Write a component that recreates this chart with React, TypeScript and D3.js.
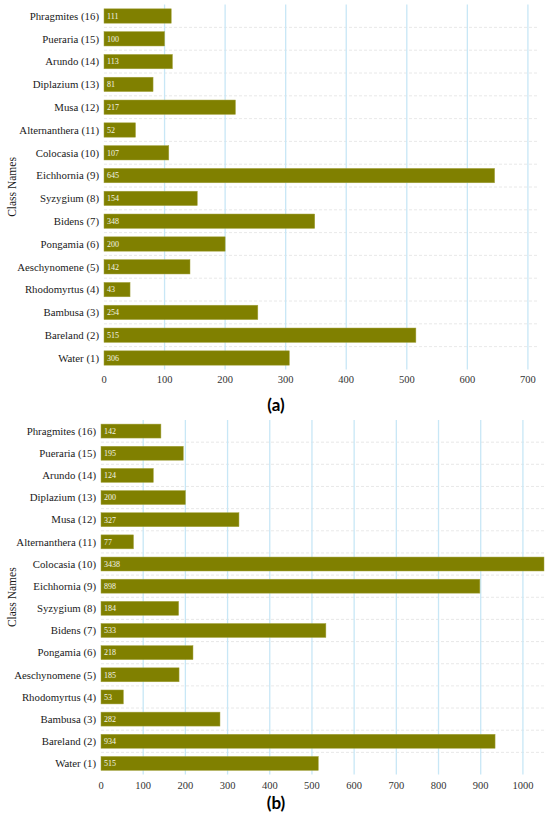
import * as d3 from "d3";

const CATEGORIES = [
  "Phragmites (16)",
  "Pueraria (15)",
  "Arundo (14)",
  "Diplazium (13)",
  "Musa (12)",
  "Alternanthera (11)",
  "Colocasia (10)",
  "Eichhornia (9)",
  "Syzygium (8)",
  "Bidens (7)",
  "Pongamia (6)",
  "Aeschynomene (5)",
  "Rhodomyrtus (4)",
  "Bambusa (3)",
  "Bareland (2)",
  "Water (1)",
];

const VALUES_A = [111, 100, 113, 81, 217, 52, 107, 645, 154, 348, 200, 142, 43, 254, 515, 306];
const VALUES_B = [142, 195, 124, 200, 327, 77, 3438, 898, 184, 533, 218, 185, 53, 282, 934, 515];

const TICKS_A = [0, 100, 200, 300, 400, 500, 600, 700];
const TICKS_B = [0, 100, 200, 300, 400, 500, 600, 700, 800, 900, 1000];

const BAR = "#808000";
const SERIF = "Liberation Serif, DejaVu Serif, Times New Roman, serif";

interface PanelProps {
  values: number[];
  ticks: number[];
  xMax: number;
  left: number;
  right: number;
  top: number;
  bottom: number;
  label: string;
  labelY: number;
}

const Panel = ({ values, ticks, xMax, left, right, top, bottom, label, labelY }: PanelProps) => {
  const x = d3.scaleLinear().domain([0, xMax]).range([left, right]).clamp(true);
  const y = d3
    .scaleBand<string>()
    .domain(CATEGORIES)
    .range([top, bottom])
    .paddingInner(0.37)
    .paddingOuter(0.185);
  const step = y.step();
  const bw = y.bandwidth();
  const centerY = (top + bottom) / 2;

  return (
    <g>
      {/* dashed row separators */}
      {CATEGORIES.slice(1).map((c) => {
        const yy = (y(c) as number) - (step - bw) / 2;
        return (
          <line
            key={"h" + c}
            x1={left}
            x2={right}
            y1={yy}
            y2={yy}
            stroke="#e2e2e2"
            strokeWidth={0.8}
            strokeDasharray="3,2"
          />
        );
      })}
      {/* vertical grid */}
      {ticks.slice(1).map((t) => (
        <line
          key={"v" + t}
          x1={x(t)}
          x2={x(t)}
          y1={top}
          y2={bottom}
          stroke="#c8e7f6"
          strokeWidth={1.3}
        />
      ))}
      {CATEGORIES.map((c, i) => (
        <g key={c}>
          <rect
            x={x(0)}
            y={y(c)}
            width={x(values[i]) - x(0)}
            height={bw}
            fill={BAR}
            stroke="#a3a340"
            strokeWidth={0.5}
          />
          <text
            x={x(0) + 3}
            y={(y(c) as number) + bw / 2}
            dy="0.35em"
            fontSize={8}
            fill="#f4f4e6"
            style={{ fontFamily: SERIF }}
          >
            {values[i]}
          </text>
          <text
            x={left - 5}
            y={(y(c) as number) + bw / 2}
            dy="0.35em"
            textAnchor="end"
            fontSize={10.8}
            fill="#1a1a1a"
            style={{ fontFamily: SERIF }}
          >
            {c}
          </text>
        </g>
      ))}
      {ticks.map((t) => (
        <text
          key={"t" + t}
          x={x(t)}
          y={bottom + 14}
          textAnchor="middle"
          fontSize={10.5}
          fill="#333"
          style={{ fontFamily: SERIF }}
        >
          {t}
        </text>
      ))}
      <text
        transform={`translate(16, ${centerY}) rotate(-90)`}
        textAnchor="middle"
        fontSize={11.5}
        fill="#1a1a1a"
        style={{ fontFamily: SERIF }}
      >
        Class Names
      </text>
      <text
        x={276}
        y={labelY}
        textAnchor="middle"
        fontSize={17}
        fontWeight="bold"
        fill="#000"
        style={{ fontFamily: "Lato, Open Sans, sans-serif" }}
      >
        {label}
      </text>
    </g>
  );
};

export default function App() {
  return (
    <div style={{ position: "absolute", left: 0, top: 0, width: 550, height: 815, background: "#fff" }}>
      <svg width={550} height={815} style={{ display: "block" }}>
        <Panel
          values={VALUES_A}
          ticks={TICKS_A}
          xMax={715}
          left={104}
          right={537}
          top={4.6}
          bottom={369.4}
          label="(a)"
          labelY={411}
        />
        <Panel
          values={VALUES_B}
          ticks={TICKS_B}
          xMax={1050}
          left={101}
          right={544}
          top={420}
          bottom={774.5}
          label="(b)"
          labelY={809}
        />
      </svg>
    </div>
  );
}
